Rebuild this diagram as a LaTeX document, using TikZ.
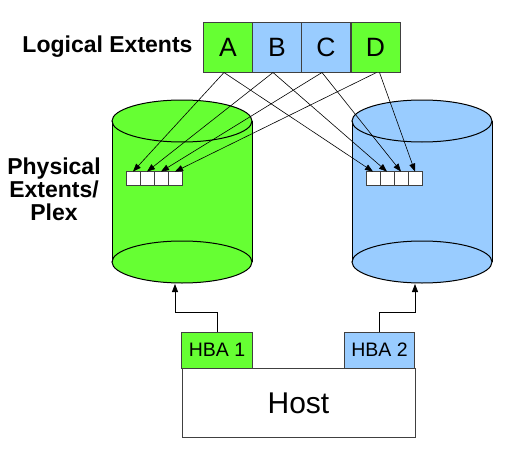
\documentclass[tikz,border=0pt]{standalone}
\usepackage{fontspec}
\setmainfont{Liberation Sans}
\usetikzlibrary{arrows.meta}
\definecolor{mygreen}{HTML}{66FF33}
\definecolor{myblue}{HTML}{99CCFF}
\definecolor{edgegray}{HTML}{404040}
\begin{document}
\begin{tikzpicture}[x=1pt,y=-1pt,
  letterbox/.style={draw=edgegray,line width=1pt,minimum width=49pt,minimum height=50pt,inner sep=0pt,font=\fontsize{26.5}{26.5}\selectfont},
  extbox/.style={draw=edgegray,fill=white,line width=0.8pt,minimum width=14pt,minimum height=14pt,inner sep=0pt},
  hbabox/.style={draw=edgegray,line width=1pt,minimum width=70.5pt,minimum height=36pt,inner sep=0pt,font=\fontsize{19.5}{19.5}\selectfont},
  maparrow/.style={draw,line width=0.6pt,-{Triangle[length=8pt,width=6pt]}},
  lbl/.style={font=\fontsize{23}{23}\selectfont\bfseries,align=center}
]
\useasboundingbox (0,0) rectangle (509,455);
% cylinders
\foreach \cx/\col in {182/mygreen,422/myblue}{
  \fill[\col] (\cx-70,121) rectangle (\cx+70,262);
  \fill[\col] (\cx,121) ellipse [x radius=70pt,y radius=21pt];
  \fill[\col] (\cx,262) ellipse [x radius=70pt,y radius=21pt];
  \draw[line width=1pt] (\cx,121) ellipse [x radius=70pt,y radius=21pt];
  \draw[line width=1pt] (\cx,262) ellipse [x radius=70pt,y radius=21pt];
  \draw[line width=1pt] (\cx-70,121) -- (\cx-70,262) (\cx+70,121) -- (\cx+70,262);
}
% logical extents
\node[letterbox,fill=mygreen] (A) at (228,47) {A};
\node[letterbox,fill=myblue] (B) at (277,47) {B};
\node[letterbox,fill=myblue] (C) at (326,47) {C};
\node[letterbox,fill=mygreen] (D) at (375.5,47) {D};
\node[lbl,anchor=base east] (lt) at (196,52.5) {Logical Extents};
\node[lbl] (pl) at (54,189.5) {Physical\\Extents/\\Plex};
% physical extents
\foreach \i/\x in {1/133,2/147,3/161,4/175}{
  \node[extbox] (l\i) at (\x,178) {};
}
\foreach \i/\x in {1/373,2/387,3/401,4/415}{
  \node[extbox] (r\i) at (\x,178) {};
}
% mapping arrows
\draw[maparrow] ([xshift=-4pt]A.south) -- ([yshift=-1pt]l1.north);
\draw[maparrow] ([xshift=-4pt]A.south) -- ([yshift=-1pt]r1.north);
\draw[maparrow] ([xshift=-4pt]B.south) -- ([yshift=-1pt]l2.north);
\draw[maparrow] ([xshift=-4pt]B.south) -- ([yshift=-1pt]r2.north);
\draw[maparrow] ([xshift=-4pt]C.south) -- ([yshift=-1pt]l3.north);
\draw[maparrow] ([xshift=-4pt]C.south) -- ([yshift=-1pt]r3.north);
\draw[maparrow] ([xshift=1pt]D.south) -- ([yshift=-1pt]l4.north);
\draw[maparrow] ([xshift=4pt]D.south) -- ([yshift=-1pt]r4.north);
% host
\node[draw=edgegray,line width=1pt,minimum width=233pt,minimum height=69.5pt,inner sep=0pt,font=\fontsize{30}{30}\selectfont] (host) at (298.5,403) {Host};
\node[hbabox,fill=mygreen] (h1) at (217,350) {HBA 1};
\node[hbabox,fill=myblue] (h2) at (379.5,350) {HBA 2};
\coordinate (c1) at (175,284);
\coordinate (c2) at (415,284);
\draw[line width=0.8pt,-{Triangle[length=8pt,width=6pt]}] (h1.north) |- (175,312) -- (c1);
\draw[line width=0.8pt,-{Triangle[length=8pt,width=6pt]}] (h2.north) |- (415,312) -- (c2);
\end{tikzpicture}
\end{document}
